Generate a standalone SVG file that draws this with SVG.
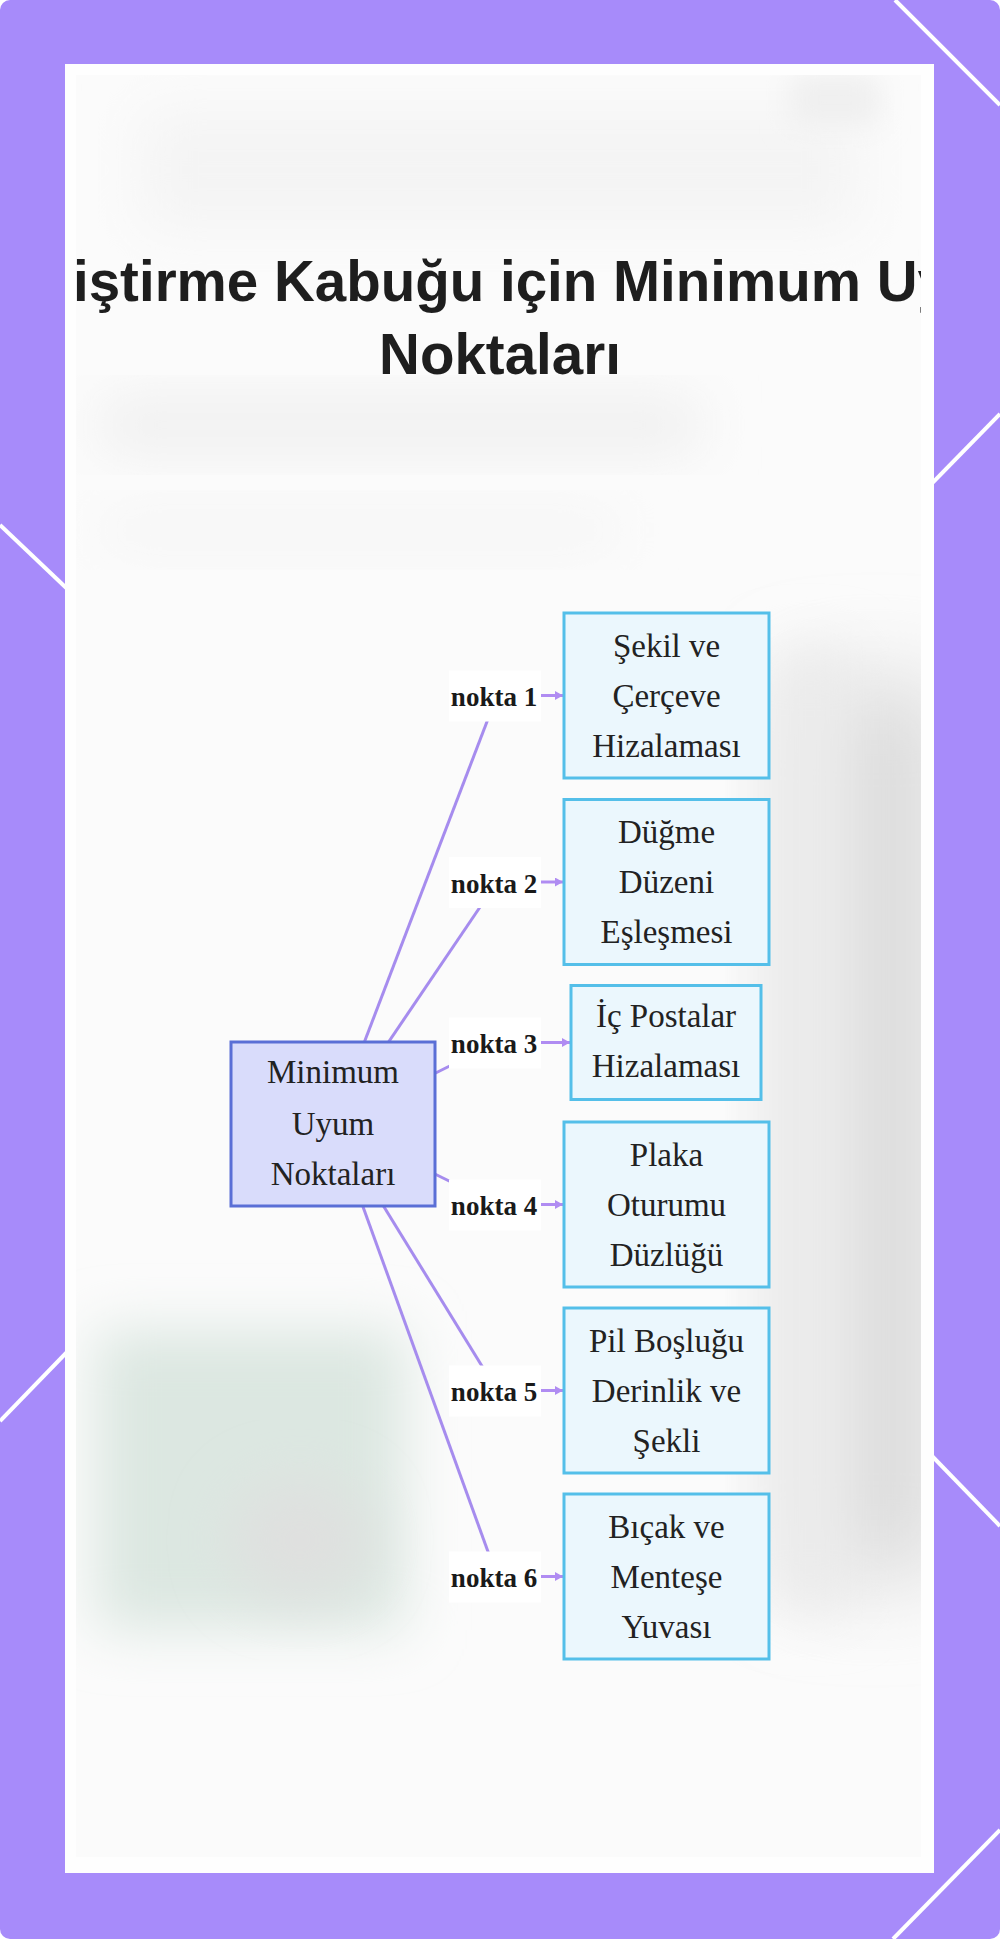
<svg xmlns="http://www.w3.org/2000/svg" width="1000" height="1939" viewBox="0 0 1000 1939">
<defs>
<style>
.title{font-family:"Liberation Sans",Arial,sans-serif;font-weight:bold;font-size:56.5px;fill:#1e1e1e}
.box{fill:#ebf7fd;stroke:#54bfe9;stroke-width:3}
.center{fill:#d9dcfb;stroke:#5a6fd6;stroke-width:3}
.bt{font-family:"Liberation Serif","Times New Roman",serif;font-size:33px;fill:#222;text-anchor:middle}
.lbl{font-family:"Liberation Serif","Times New Roman",serif;font-size:27px;font-weight:bold;fill:#1a1a1a;text-anchor:middle}
.lbg{fill:#ffffff}
.edge{stroke:#a68cee;stroke-width:3;fill:none}
.arr{stroke:#b08cf2;stroke-width:3;fill:none}
.deco{stroke:#ffffff;stroke-width:4;fill:none}
</style>
<marker id="ah" markerUnits="userSpaceOnUse" markerWidth="9" markerHeight="9" refX="8" refY="4.5" orient="auto">
<path d="M0,0 L8,4.5 L0,9 z" fill="#b08cf2"/>
</marker>
<filter id="blur" x="-50%" y="-50%" width="200%" height="200%"><feGaussianBlur stdDeviation="28"/></filter>
<filter id="blur3" x="-50%" y="-50%" width="200%" height="200%"><feGaussianBlur stdDeviation="45"/></filter>
<filter id="blur2" x="-50%" y="-50%" width="200%" height="200%"><feGaussianBlur stdDeviation="14"/></filter>
<clipPath id="inner"><rect x="76" y="75" width="845" height="1782"/></clipPath>
</defs>
<rect x="0" y="0" width="1000" height="1939" fill="#ffffff"/>
<rect x="0" y="0" width="1000" height="1939" rx="10" fill="#a78bfa"/>
<g id="decor">
<line class="deco" x1="895" y1="0" x2="1000" y2="105"/>
<line class="deco" x1="1000" y1="414" x2="900" y2="516"/>
<line class="deco" x1="0" y1="525" x2="100" y2="620"/>
<line class="deco" x1="100" y1="1318" x2="0" y2="1421"/>
<line class="deco" x1="900" y1="1423" x2="1000" y2="1526"/>
<line class="deco" x1="1000" y1="1830" x2="893" y2="1939"/>
</g>
<g id="panel">
<rect x="65" y="64" width="869" height="1809" fill="#fefefe"/>
<rect x="76" y="75" width="845" height="1782" fill="#fbfbfb"/>
<g clip-path="url(#inner)">
<rect x="140" y="110" width="720" height="120" fill="#f4f4f4" filter="url(#blur)"/>
<rect x="100" y="400" width="600" height="50" fill="#eeeeee" filter="url(#blur)"/>
<rect x="100" y="510" width="520" height="40" fill="#f5f5f5" filter="url(#blur)"/>
<rect x="790" y="75" width="90" height="50" fill="#efefef" filter="url(#blur2)"/>
<rect x="800" y="680" width="150" height="900" fill="#dcdcdc" filter="url(#blur3)"/>
<rect x="770" y="650" width="80" height="960" fill="#ebebeb" filter="url(#blur)"/>
<rect x="95" y="1330" width="310" height="300" fill="#dce7e1" filter="url(#blur)"/>
<ellipse cx="300" cy="1540" rx="70" ry="60" fill="#dfe0df" filter="url(#blur)"/>
</g>
</g>
<g id="title" clip-path="url(#inner)">
<text class="title" x="73" y="301">iştirme Kabuğu için Minimum Uy</text>
<text class="title" x="500" y="374" text-anchor="middle">Noktaları</text>
</g>
<g id="connectors">
<line class="edge" x1="333" y1="1124" x2="497" y2="695.5"/>
<line class="edge" x1="333" y1="1124" x2="497" y2="882"/>
<line class="edge" x1="333" y1="1124" x2="497" y2="1042.5"/>
<line class="edge" x1="333" y1="1124" x2="497" y2="1204.5"/>
<line class="edge" x1="333" y1="1124" x2="497" y2="1390.5"/>
<line class="edge" x1="333" y1="1124" x2="497" y2="1576.5"/>
<g id="label1"><rect class="lbg" x="449" y="670.5" width="92" height="51"/><text class="lbl" x="494" y="706">nokta 1</text><line class="arr" x1="541" y1="695.5" x2="563" y2="695.5" marker-end="url(#ah)"/></g>
<g id="label2"><rect class="lbg" x="449" y="857" width="92" height="51"/><text class="lbl" x="494" y="892.5">nokta 2</text><line class="arr" x1="541" y1="882" x2="563" y2="882" marker-end="url(#ah)"/></g>
<g id="label3"><rect class="lbg" x="449" y="1017.5" width="92" height="51"/><text class="lbl" x="494" y="1053">nokta 3</text><line class="arr" x1="541" y1="1042.5" x2="570" y2="1042.5" marker-end="url(#ah)"/></g>
<g id="label4"><rect class="lbg" x="449" y="1179.5" width="92" height="51"/><text class="lbl" x="494" y="1215">nokta 4</text><line class="arr" x1="541" y1="1204.5" x2="563" y2="1204.5" marker-end="url(#ah)"/></g>
<g id="label5"><rect class="lbg" x="449" y="1365.5" width="92" height="51"/><text class="lbl" x="494" y="1401">nokta 5</text><line class="arr" x1="541" y1="1390.5" x2="563" y2="1390.5" marker-end="url(#ah)"/></g>
<g id="label6"><rect class="lbg" x="449" y="1551.5" width="92" height="51"/><text class="lbl" x="494" y="1587">nokta 6</text><line class="arr" x1="541" y1="1576.5" x2="563" y2="1576.5" marker-end="url(#ah)"/></g>
</g>
<g id="node-center">
<rect class="center" x="231" y="1042" width="204" height="164"/>
<text class="bt" x="333" y="1083">Minimum</text>
<text class="bt" x="333" y="1135">Uyum</text>
<text class="bt" x="333" y="1185">Noktaları</text>
</g>
<g id="node1">
<rect class="box" x="564" y="613" width="205" height="165"/>
<text class="bt" x="666.5" y="657">Şekil ve</text>
<text class="bt" x="666.5" y="707">Çerçeve</text>
<text class="bt" x="666.5" y="757">Hizalaması</text>
</g>
<g id="node2">
<rect class="box" x="564" y="799.5" width="205" height="165"/>
<text class="bt" x="666.5" y="843">Düğme</text>
<text class="bt" x="666.5" y="893">Düzeni</text>
<text class="bt" x="666.5" y="943">Eşleşmesi</text>
</g>
<g id="node3">
<rect class="box" x="571" y="985.5" width="190" height="114"/>
<text class="bt" x="666" y="1027">İç Postalar</text>
<text class="bt" x="666" y="1077">Hizalaması</text>
</g>
<g id="node4">
<rect class="box" x="564" y="1122" width="205" height="165"/>
<text class="bt" x="666.5" y="1165.5">Plaka</text>
<text class="bt" x="666.5" y="1215.5">Oturumu</text>
<text class="bt" x="666.5" y="1265.5">Düzlüğü</text>
</g>
<g id="node5">
<rect class="box" x="564" y="1308" width="205" height="165"/>
<text class="bt" x="666.5" y="1351.5">Pil Boşluğu</text>
<text class="bt" x="666.5" y="1401.5">Derinlik ve</text>
<text class="bt" x="666.5" y="1451.5">Şekli</text>
</g>
<g id="node6">
<rect class="box" x="564" y="1494" width="205" height="165"/>
<text class="bt" x="666.5" y="1537.5">Bıçak ve</text>
<text class="bt" x="666.5" y="1587.5">Menteşe</text>
<text class="bt" x="666.5" y="1637.5">Yuvası</text>
</g>
</svg>
